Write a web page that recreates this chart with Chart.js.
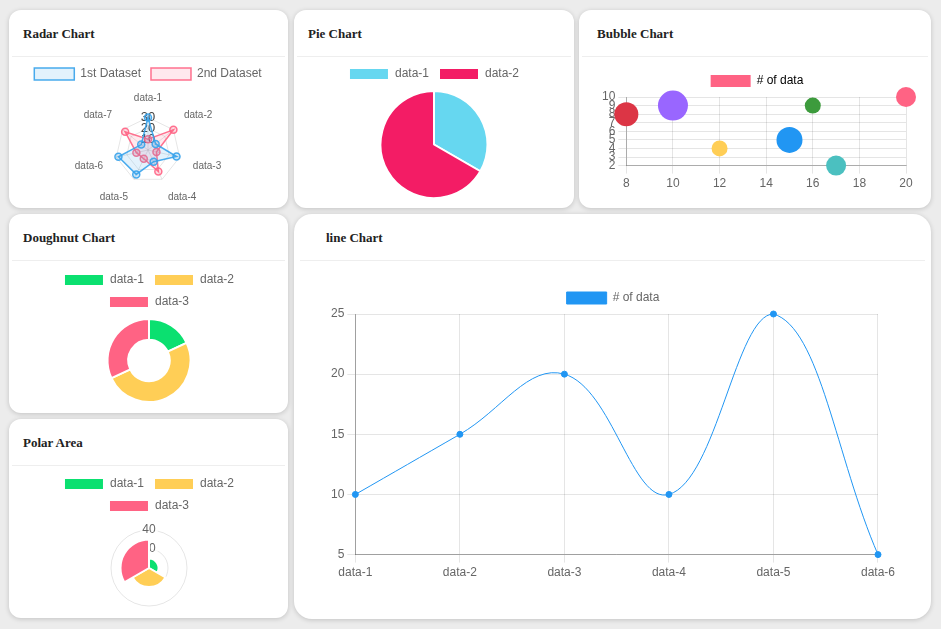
<!DOCTYPE html>
<html>
<head>
<meta charset="utf-8">
<title>Charts</title>
<script src="https://cdn.jsdelivr.net/npm/chart.js@4.4.0/dist/chart.umd.min.js"></script>
<style>
  html, body { margin: 0; padding: 0; background: #ececec; width: 941px; height: 629px; overflow: hidden; }
  .card { position: absolute; background: #fff; border-radius: 12px; box-shadow: 0 1px 5px rgba(0, 0, 0, 0.18); }
  .card h4 { position: absolute; margin: 0; top: 16px; font: bold 13px/15px "Liberation Serif", "DejaVu Serif", serif; color: #222; }
  .card .sep { position: absolute; top: 46px; left: 3px; right: 3px; height: 1px; background: #eee; }
  .box { position: absolute; }
</style>
</head>
<body>

<div class="card" style="left:9px;top:10px;width:279px;height:198px"><h4 style="left:14px">Radar Chart</h4><div class="sep"></div></div>
<div class="card" style="left:294px;top:10px;width:280px;height:198px"><h4 style="left:14px">Pie Chart</h4><div class="sep"></div></div>
<div class="card" style="left:579px;top:10px;width:352px;height:198px"><h4 style="left:18px">Bubble Chart</h4><div class="sep"></div></div>
<div class="card" style="left:9px;top:214px;width:279px;height:199px"><h4 style="left:14px">Doughnut Chart</h4><div class="sep"></div></div>
<div class="card" style="left:9px;top:419px;width:279px;height:199px"><h4 style="left:14px">Polar Area</h4><div class="sep"></div></div>
<div class="card" style="left:294px;top:214px;width:637px;height:405px;border-radius:18px"><h4 style="left:32px">line Chart</h4><div class="sep" style="left:6px;right:6px"></div></div>

<div class="box" style="left:18px;top:57px;width:260px;height:149px"><canvas id="radarChart"></canvas></div>
<div class="box" style="left:304px;top:57px;width:260px;height:142px"><canvas id="pieChart"></canvas></div>
<div class="box" style="left:589px;top:57px;width:332px;height:137px"><canvas id="bubbleChart"></canvas></div>
<div class="box" style="left:19px;top:261px;width:260px;height:142px"><canvas id="doughnutChart"></canvas></div>
<div class="box" style="left:19px;top:466px;width:260px;height:148px"><canvas id="polarChart"></canvas></div>
<div class="box" style="left:328px;top:282px;width:570px;height:301px"><canvas id="lineChart"></canvas></div>

<script>
// datos de los graficos
var radarLabels = ["data-1", "data-2", "data-3", "data-4", "data-5", "data-6", "data-7"];
var radarData1 = [30, 9, 27, 12, 25, 28, 8];
var radarData2 = [10, 30, 8, 22, 9, 11, 27];

var pieLabels = ["data-1", "data-2"];
var pieData = [10, 20];

var bubbleX = [8, 10, 12, 15, 16, 17, 20];
var bubbleY = [8, 9, 4, 5, 9, 2, 10];
var bubbleR = [12, 15, 8, 13, 8, 10, 10];
var bubbleColors = ["#dc3545", "#9966ff", "#ffce56", "#2196f3", "#3d9b3d", "#4bc0c0", "#ff6384"];

var threeLabels = ["data-1", "data-2", "data-3"];
var doughnutData = [18, 50, 32];
var polarData = [10, 20, 30];
var threeColors = ["#0be070", "#ffce56", "#ff6384"];

var lineLabels = ["data-1", "data-2", "data-3", "data-4", "data-5", "data-6"];
var lineData = [10, 15, 20, 10, 25, 5];

Chart.defaults.font.family = "'Liberation Sans', Arial, sans-serif";
Chart.defaults.font.size = 12;
Chart.defaults.color = "#666";
Chart.defaults.animation = false;
Chart.defaults.maintainAspectRatio = false;
Chart.defaults.plugins.legend.labels.boxWidth = 40;

/*==========================================================
RADAR
==========================================================*/
new Chart(document.getElementById("radarChart"), {
  type: "radar",
  data: {
    labels: radarLabels,
    datasets: [
      {
        label: "1st Dataset",
        data: radarData1,
        backgroundColor: "rgba(54, 162, 235, 0.14)",
        borderColor: "rgba(54, 162, 235, 0.9)",
        pointBackgroundColor: "rgba(54, 162, 235, 0.25)",
        borderWidth: 1.5,
        pointRadius: 3.5,
      },
      {
        label: "2nd Dataset",
        data: radarData2,
        backgroundColor: "rgba(255, 99, 132, 0.14)",
        borderColor: "rgba(255, 99, 132, 0.9)",
        pointBackgroundColor: "rgba(255, 99, 132, 0.25)",
        borderWidth: 1.5,
        pointRadius: 3.5,
      },
    ],
  },
  options: {
    layout: { padding: { top: 1 } },
    scales: {
      r: {
        min: 0,
        max: 30,
        ticks: { stepSize: 10, showLabelBackdrop: false, color: "#444", font: { size: 13 } },
        pointLabels: { font: { size: 10 } },
      },
    },
  },
});

/*==========================================================
PIE
==========================================================*/
new Chart(document.getElementById("pieChart"), {
  type: "pie",
  data: {
    labels: pieLabels,
    datasets: [{ data: pieData, backgroundColor: ["#66d7f0", "#f31c65"] }],
  },
  options: {
    layout: { padding: { top: 1 } },
  },
});

/*==========================================================
BUBBLE
==========================================================*/
var bubblePoints = bubbleX.map(function (x, i) {
  return { x: x, y: bubbleY[i], r: bubbleR[i] };
});
new Chart(document.getElementById("bubbleChart"), {
  type: "bubble",
  data: {
    datasets: [{ label: "# of data", data: bubblePoints, backgroundColor: bubbleColors, borderWidth: 0 }],
  },
  options: {
    layout: { padding: { top: 8, left: 10, right: 6 } },
    plugins: {
      legend: {
        labels: {
          generateLabels: function () {
            return [{ text: "# of data", fillStyle: bubbleColors[6], strokeStyle: bubbleColors[6], lineWidth: 0, datasetIndex: 0 }];
          },
        },
      },
    },
    scales: {
      x: { ticks: { stepSize: 2 }, border: { color: "rgba(0,0,0,0.25)" } },
      y: { ticks: { stepSize: 1, autoSkip: false }, border: { color: "rgba(0,0,0,0.25)" } },
    },
  },
});

/*==========================================================
DOUGHNUT
==========================================================*/
new Chart(document.getElementById("doughnutChart"), {
  type: "doughnut",
  data: {
    labels: threeLabels,
    datasets: [{ data: doughnutData, backgroundColor: threeColors }],
  },
  options: {
    layout: { padding: { top: 3 } },
  },
});

/*==========================================================
POLAR AREA
==========================================================*/
new Chart(document.getElementById("polarChart"), {
  type: "polarArea",
  data: {
    labels: threeLabels,
    datasets: [{ data: polarData, backgroundColor: threeColors }],
  },
  options: {
    layout: { padding: { top: 2 } },
  },
});

/*==========================================================
LINE
==========================================================*/
new Chart(document.getElementById("lineChart"), {
  type: "line",
  data: {
    labels: lineLabels,
    datasets: [
      {
        label: "# of data",
        data: lineData,
        borderColor: "#2196f3",
        backgroundColor: "#2196f3",
        borderWidth: 1,
        tension: 0.4,
        pointRadius: 3,
        fill: false,
      },
    ],
  },
  options: {
    scales: {
      x: { grid: { offset: false }, border: { color: "rgba(0,0,0,0.3)" } },
      y: { ticks: { stepSize: 5 }, border: { color: "rgba(0,0,0,0.3)" } },
    },
  },
});
</script>
</body>
</html>
